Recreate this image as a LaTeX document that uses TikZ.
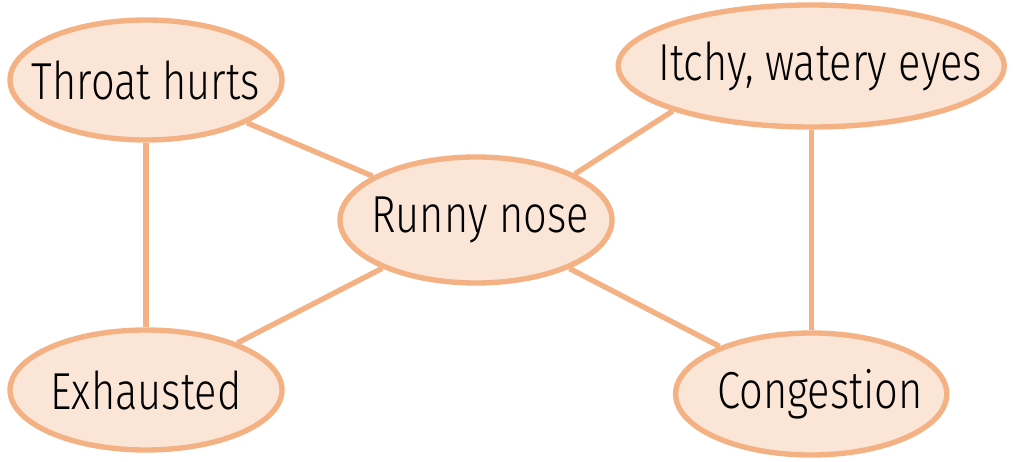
\documentclass[tikz,border=0pt]{standalone}
\usepackage{fontspec}
\setmainfont{Fira Sans}[UprightFont=* Light, FakeStretch=0.8]
\usepackage{tikz}
\usetikzlibrary{shapes.geometric}

\definecolor{symline}{HTML}{F4B183}
\definecolor{symfill}{HTML}{FBE5D6}

\tikzset{
  symptom/.style={ellipse, draw=symline, fill=symfill, line width=3.8pt,
    inner xsep=-3cm, inner ysep=-1cm, font=\fontsize{37}{40}\selectfont},
  link/.style={draw=symline, line width=3.8pt}
}

\begin{document}
\begin{tikzpicture}
  \useasboundingbox (0,0) rectangle (25.625,-11.55);

  %% symptoms
  \node[symptom, minimum width=6.8cm, minimum height=3.0cm] (throat) at (3.65,-2.0) {Throat hurts};
  \node[symptom, minimum width=9.65cm, minimum height=3.05cm] (eyes) at (20.28,-1.65) {\hspace{0.45cm}Itchy, watery eyes};
  \node[symptom, minimum width=6.8cm, minimum height=3.15cm] (nose) at (11.9,-5.5) {\hspace{0.2cm}Runny nose};
  \node[symptom, minimum width=6.8cm, minimum height=3.0cm] (tired) at (3.65,-9.75) {Exhausted};
  \node[symptom, minimum width=6.78cm, minimum height=3.05cm] (cong) at (20.28,-9.85) {\hspace{0.45cm}Congestion};

  %% links
  \draw[link] (throat) -- (nose);
  \draw[link] (throat) -- (tired);
  \draw[link] (nose.25) -- (eyes.198);
  \draw[link] (nose) -- (tired);
  \draw[link] (nose) -- (cong);
  \draw[link] (eyes) -- (cong);

\end{tikzpicture}
\end{document}
